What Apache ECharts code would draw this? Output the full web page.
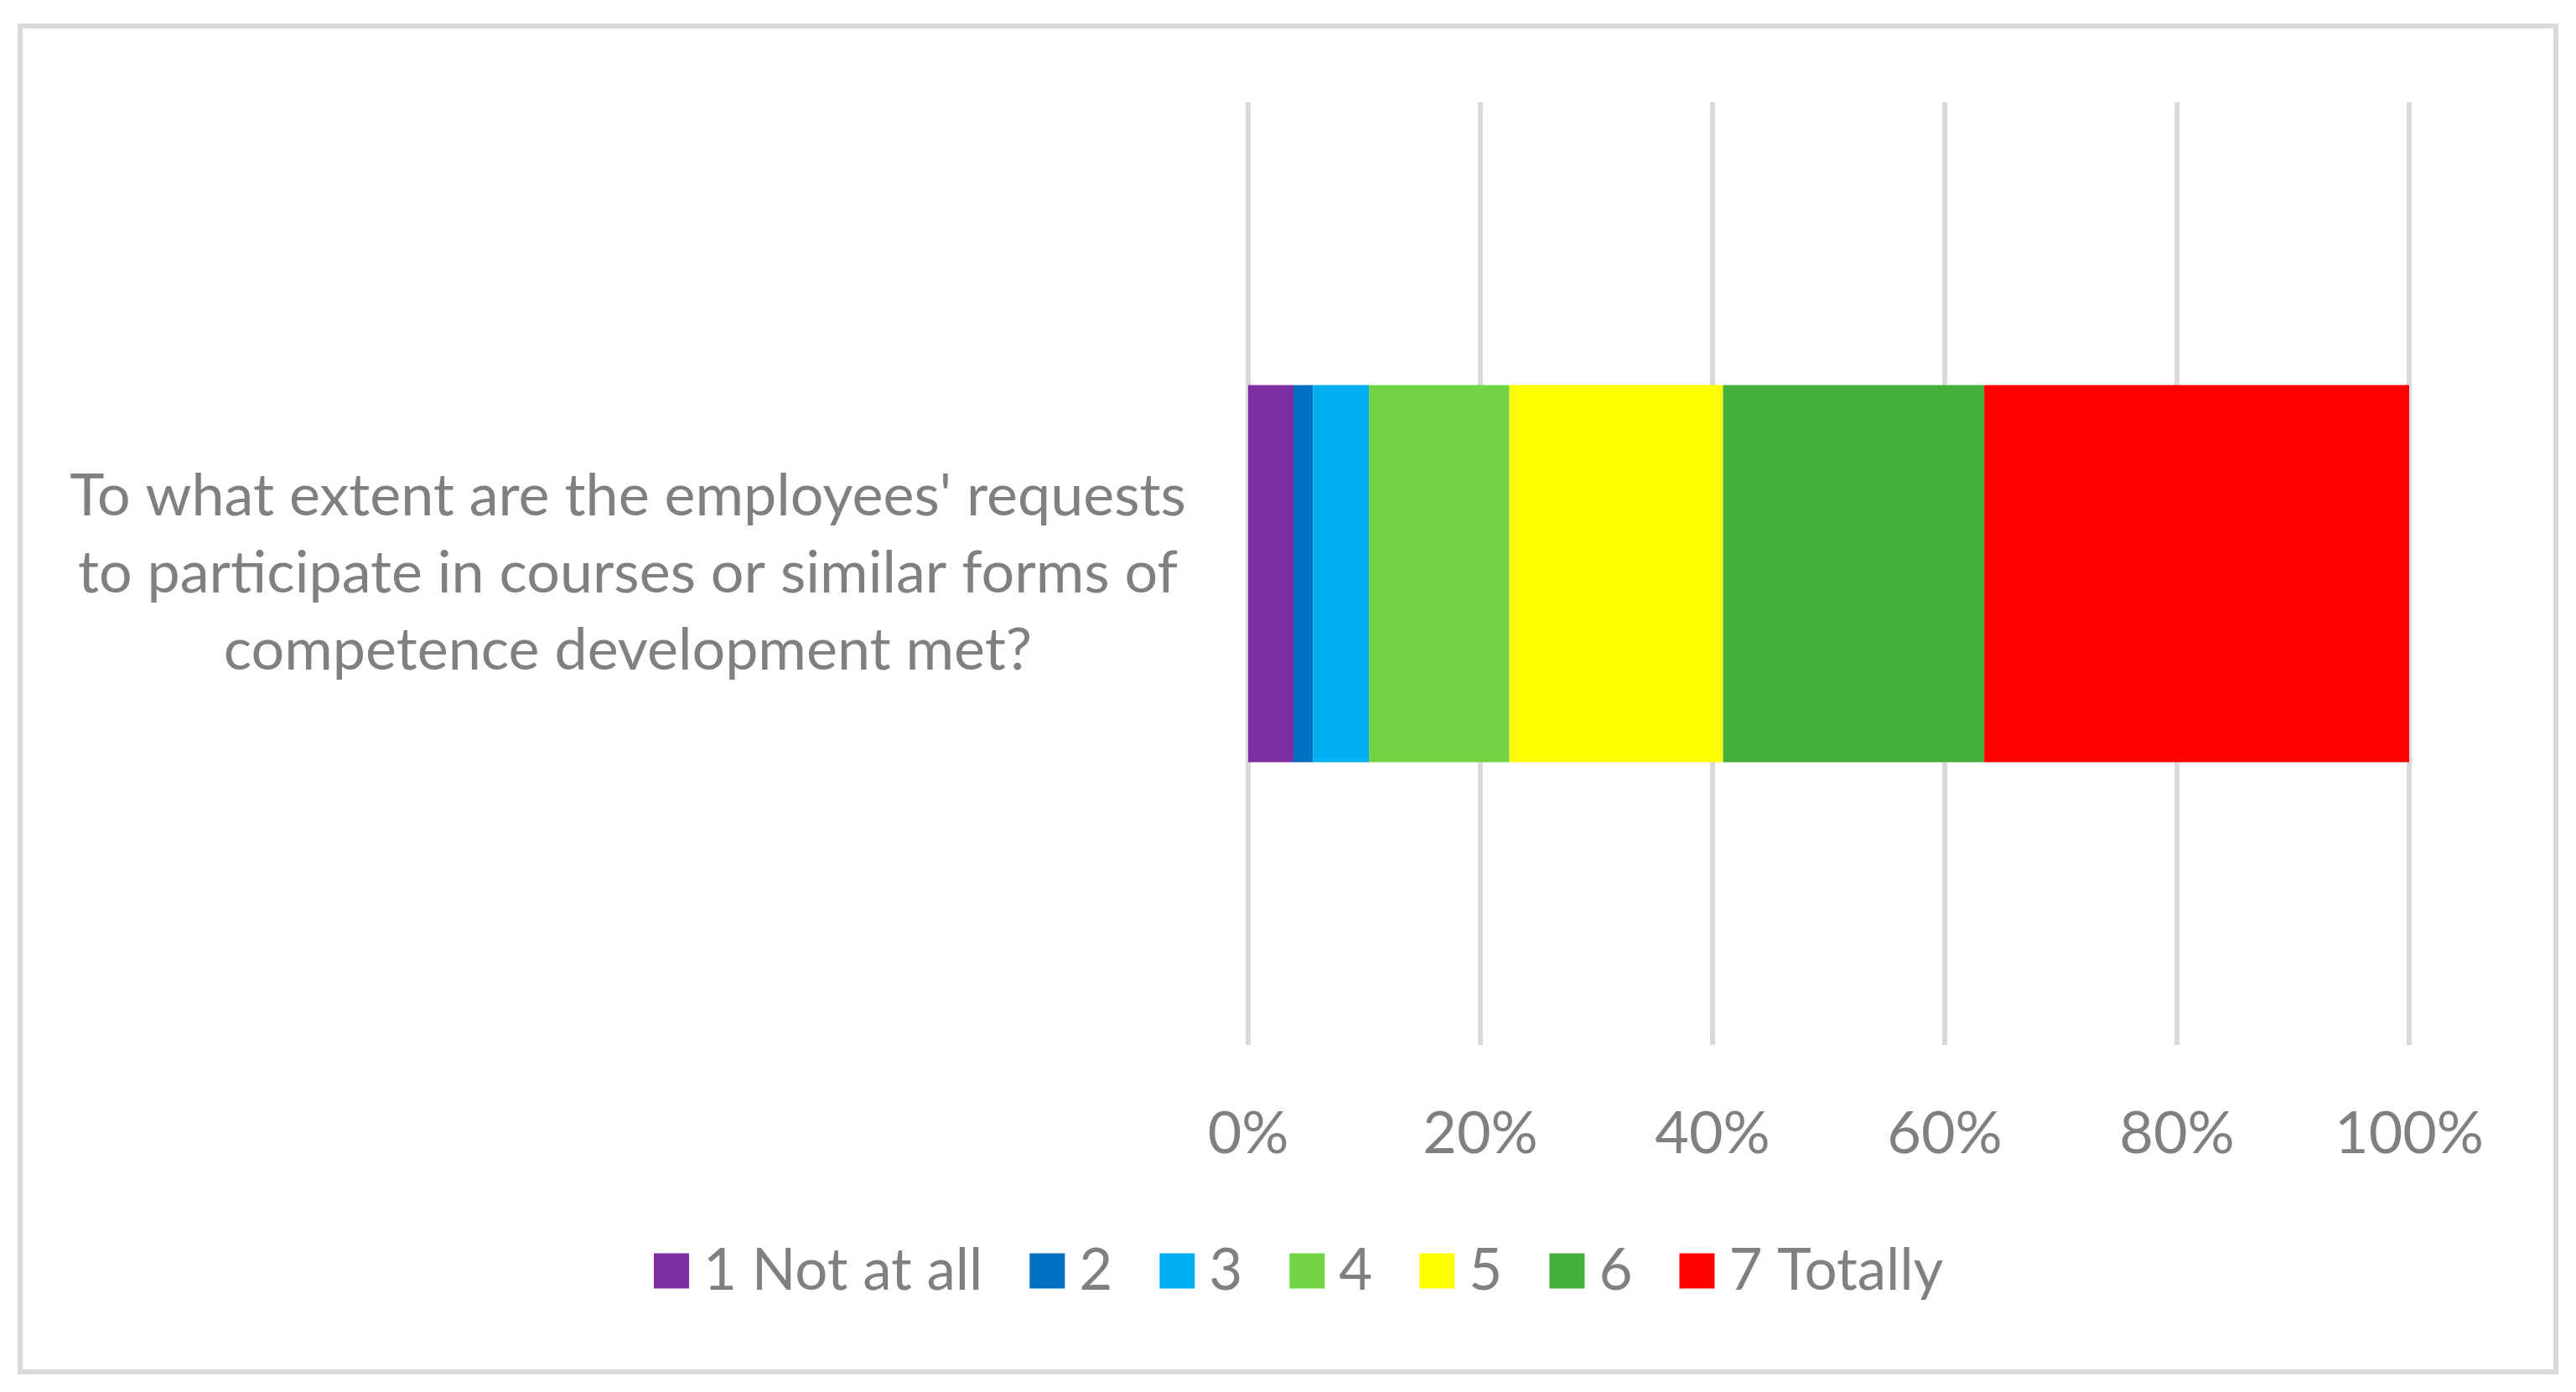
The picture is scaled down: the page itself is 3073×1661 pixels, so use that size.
<!DOCTYPE html>
<html>
<head>
<meta charset="utf-8">
<script src="https://cdn.jsdelivr.net/npm/echarts@6/dist/echarts.min.js"></script>
<style>
html,body{margin:0;padding:0;background:#fff;}
#chart{width:3073px;height:1661px;}
</style>
</head>
<body>
<div id="chart"></div>
<script>
const categories = ["To what extent are the employees' requests\nto participate in courses or similar forms of\ncompetence development met?"];
const seriesNames = ["1 Not at all", "2", "3", "4", "5", "6", "7 Totally"];
const seriesValues = [[3.9], [1.7], [4.8], [12.1], [18.4], [22.5], [36.6]];
const seriesColors = ["#7F2DA3", "#0070C0", "#00B0F0", "#70D444", "#FFFF00", "#45AF3B", "#FF0000"];
const tickValues = [0, 20, 40, 60, 80, 100];

const FONT = "Lato";
const TXT = "#808080";

const chart = echarts.init(document.getElementById('chart'), null, {renderer: 'canvas'});
chart.setOption({
  animation: false,
  backgroundColor: '#fff',
  textStyle: {fontFamily: FONT},
  graphic: [{
    type: 'rect',
    shape: {x: 24, y: 31, width: 3025, height: 1606},
    style: {fill: 'none', stroke: '#d9d9d9', lineWidth: 6},
    silent: true
  }],
  grid: {left: 1489, right: 199, top: 122, bottom: 414, containLabel: false},
  legend: {
    data: seriesNames,
    top: 1482,
    left: 780,
    icon: 'rect',
    itemWidth: 42,
    itemHeight: 42,
    itemGap: 56,
    padding: 0,
    textStyle: {fontFamily: FONT, fontSize: 69, color: TXT, padding: [0, 0, 0, 12]}
  },
  xAxis: {
    type: 'value',
    min: tickValues[0],
    max: tickValues[tickValues.length - 1],
    interval: 20,
    axisLine: {show: false},
    axisTick: {show: false},
    splitLine: {show: true, lineStyle: {color: '#d9d9d9', width: 6}},
    axisLabel: {
      formatter: '{value}%',
      fontFamily: FONT, fontSize: 70, color: TXT, margin: 71
    }
  },
  yAxis: {
    type: 'category',
    data: categories,
    axisLine: {show: false},
    axisTick: {show: false},
    axisLabel: {
      margin: 740,
      align: 'center',
      fontFamily: FONT, fontSize: 70, lineHeight: 92, color: TXT
    }
  },
  series: seriesNames.map((name, i) => ({
    name: name,
    type: 'bar',
    stack: 'total',
    barCategoryGap: '60%',
    data: seriesValues[i],
    itemStyle: {color: seriesColors[i]}
  }))
});
</script>
</body>
</html>
